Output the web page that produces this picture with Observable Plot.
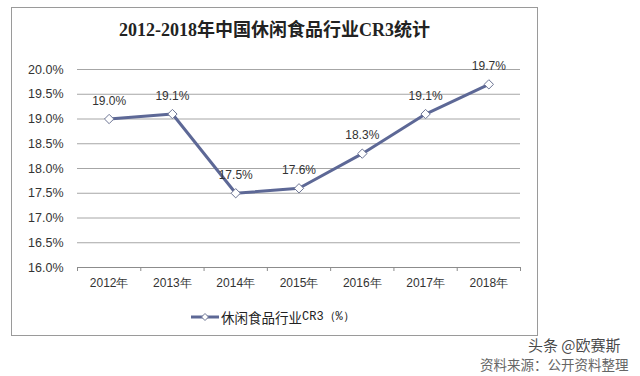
<!DOCTYPE html>
<html>
<head>
<meta charset="utf-8">
<script src="https://cdn.jsdelivr.net/npm/d3@7"></script>
<script src="https://cdn.jsdelivr.net/npm/@observablehq/plot@0.6"></script>
<style>
  html, body { margin: 0; padding: 0; background: #fff; }
  #wrap { position: relative; width: 640px; height: 376px; overflow: hidden; background: #fff; }
  #chart { position: absolute; left: 0; top: 0; }
  #frame { position: absolute; left: 11px; top: 7px; width: 525px; height: 327px; border: 1px solid #9a9a9a; pointer-events: none; }
  #title { position: absolute; left: 11px; width: 527px; top: 18px; text-align: center;
           font-family: "Liberation Serif", "Noto Sans CJK SC", serif; font-weight: bold; font-size: 18px; color: #222; line-height: 24px; }
  #legend { position: absolute; left: 190px; top: 307px; display: flex; align-items: center;
            font-family: "Noto Sans CJK SC", sans-serif; font-size: 13.5px; color: #222; line-height: 20px; }
  #legend .cr { font-family: "Liberation Sans Narrow", "Liberation Mono", monospace; font-size: 12px; }
  #source { position: absolute; left: 480px; top: 355px; font-family: "Noto Sans CJK SC", sans-serif; font-size: 13.5px; color: #666; line-height: 18px; white-space: nowrap; }
  #mark { position: absolute; left: 528px; top: 336px; font-family: "Noto Sans CJK SC", sans-serif; font-size: 15px; color: rgba(40,40,40,0.85); line-height: 18px; white-space: nowrap;
          text-shadow: 0 0 2px #fff, 0 0 2px #fff; }
</style>
</head>
<body>
<div id="wrap">
  <div id="chart"></div>
  <div id="frame"></div>
  <div id="title">2012-2018年中国休闲食品行业CR3统计</div>
  <div id="legend"></div>
  <div id="source">资料来源：公开资料整理</div>
  <div id="mark">头条 @欧赛斯</div>
</div>
<script>
const years = ["2012年", "2013年", "2014年", "2015年", "2016年", "2017年", "2018年"];
const cr3 = [0.190, 0.191, 0.175, 0.176, 0.183, 0.191, 0.197];
const yTicks = [0.160, 0.165, 0.170, 0.175, 0.180, 0.185, 0.190, 0.195, 0.200];
const seriesName = "休闲食品行业CR3（%）";

const lineColor = "#5d6896";
const data = years.map((y, i) => ({ i, year: y, v: cr3[i] }));
const boundaries = d3.range(years.length + 1).map(k => k - 0.5);

const chart = Plot.plot({
  width: 640,
  height: 376,
  marginLeft: 77,
  marginRight: 120,
  marginTop: 69,
  marginBottom: 109,
  style: { fontFamily: "Liberation Sans, Arial, sans-serif", fontSize: "12px", color: "#333", background: "transparent" },
  x: { type: "linear", domain: [-0.5, years.length - 0.5], label: null },
  y: { domain: [0.16, 0.20], label: null },
  marks: [
    Plot.gridY(yTicks, { stroke: "#a6a6a6", strokeOpacity: 1, strokeWidth: 1 }),
    Plot.ruleY([0.16], { stroke: "#8c8c8c", strokeWidth: 1 }),
    Plot.axisX(boundaries, { tickSize: 4, tickFormat: () => "", stroke: "#8c8c8c", tickPadding: 0, label: null }),
    Plot.axisX(d3.range(years.length), { tickSize: 0, tickPadding: 11, tickFormat: i => years[i], fill: "#333", fontSize: 12, label: null }),
    Plot.axisY(yTicks, { tickSize: 0, tickPadding: 14, tickFormat: d3.format(".1%"), fill: "#333", fontSize: 12.5, label: null }),
    Plot.line(data, { x: "i", y: "v", stroke: lineColor, strokeWidth: 3 }),
    Plot.dot(data, { x: "i", y: "v", symbol: "diamond2", r: 4.2, fill: "white", stroke: "#6d7594", strokeWidth: 1 }),
    Plot.text(data, { x: "i", y: "v", text: d => d3.format(".1%")(d.v), dy: -18, fill: "#333", fontSize: 12 })
  ]
});
document.getElementById("chart").appendChild(chart);

const legend = document.getElementById("legend");
legend.innerHTML =
  `<svg width="30" height="14" style="margin-right:1px"><line x1="1" y1="7" x2="29" y2="7" stroke="${lineColor}" stroke-width="3"/>` +
  `<path d="M15,3.5 L18.5,7 L15,10.5 L11.5,7 Z" fill="white" stroke="#6d7594" stroke-width="1"/></svg>` +
  `<span>休闲食品行业</span><span class="cr">CR3（%）</span>`;
</script>
</body>
</html>
